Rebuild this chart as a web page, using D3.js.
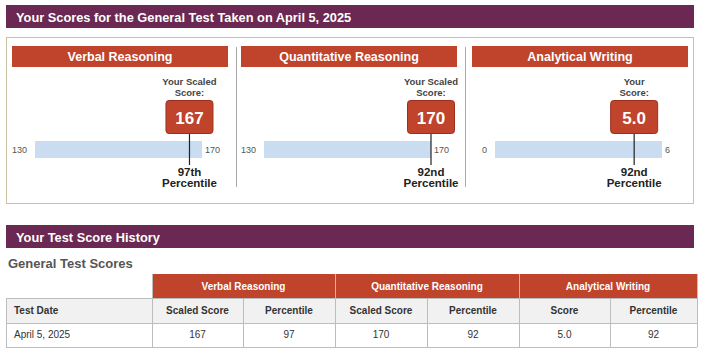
<!DOCTYPE html>
<html>
<head>
<meta charset="utf-8">
<script src="https://cdn.jsdelivr.net/npm/d3@7"></script>
<style>
  body { margin: 0; background: #fff; }
  svg { display: block; font-family: "Liberation Sans", Arial, sans-serif; }
</style>
</head>
<body>
<svg id="chart" width="707" height="356"></svg>
<script>
// score data
const sections = ["Verbal Reasoning", "Quantitative Reasoning", "Analytical Writing"];
const scores = [167, 170, 5.0];
const scoreFormats = ["d", "d", ".1f"];
const percentiles = [97, 92, 92];
const minScores = [130, 130, 0];
const maxScores = [170, 170, 6];
const scoreCaptions = [["Your Scaled", "Score:"], ["Your Scaled", "Score:"], ["Your", "Score:"]];

const testDates = ["April 5, 2025"];
const scoreColumns = ["Scaled Score", "Percentile", "Scaled Score", "Percentile", "Score", "Percentile"];

const purple = "#6a2853";
const red = "#c0432b";

const svg = d3.select("#chart");

function ordinal(n) {
  const s = ["th", "st", "nd", "rd"], v = n % 100;
  return n + (s[(v - 20) % 10] || s[v] || s[0]);
}

function banner(y, h, label) {
  svg.append("rect").attr("x", 6).attr("y", y).attr("width", 688).attr("height", h).attr("fill", purple);
  svg.append("text").attr("x", 16).attr("y", y + h / 2 + 5)
    .attr("fill", "#fff").attr("font-weight", "bold").attr("font-size", 12.8)
    .text(label);
}

// ---- top section ----
banner(5, 23, "Your Scores for the General Test Taken on April 5, 2025");

svg.append("rect").attr("x", 6.5).attr("y", 37.5).attr("width", 687).attr("height", 166)
  .attr("fill", "#fff").attr("stroke", "#c9c2a3");

const panelX = [12, 241, 472];
const panelW = 216;

[236.5, 465.5].forEach(x => {
  svg.append("line").attr("x1", x).attr("x2", x).attr("y1", 47).attr("y2", 187)
    .attr("stroke", "#aaa");
});

sections.forEach((name, i) => {
  const g = svg.append("g").attr("transform", `translate(${panelX[i]},0)`);

  g.append("rect").attr("x", 0).attr("y", 46).attr("width", panelW).attr("height", 21).attr("fill", red);
  g.append("text").attr("x", panelW / 2).attr("y", 61).attr("text-anchor", "middle")
    .attr("fill", "#fff").attr("font-weight", "bold").attr("font-size", 12.5).text(name);

  const x = d3.scaleLinear().domain([minScores[i], maxScores[i]]).range([23, 190]);

  // range bar
  g.append("rect").attr("x", x.range()[0]).attr("y", 141)
    .attr("width", x.range()[1] - x.range()[0]).attr("height", 17).attr("fill", "#c9dcf0");
  g.append("text").attr("x", x.range()[0] - 8).attr("y", 153).attr("text-anchor", "end")
    .attr("font-size", 9).attr("fill", "#555").text(minScores[i]);
  g.append("text").attr("x", x.range()[1] + 3).attr("y", 153)
    .attr("font-size", 9).attr("fill", "#555").text(maxScores[i]);

  const mx = x(scores[i]);

  // pointer line
  g.append("line").attr("x1", mx).attr("x2", mx).attr("y1", 133).attr("y2", 165)
    .attr("stroke", "#222").attr("stroke-width", 1.2);

  // caption
  g.append("text").attr("text-anchor", "middle").attr("font-size", 9.5).attr("font-weight", "bold")
    .attr("fill", "#444")
    .selectAll("tspan").data(scoreCaptions[i]).join("tspan")
    .attr("x", mx).attr("y", (d, j) => 85 + j * 11).text(d => d);

  // score box
  g.append("rect").attr("x", mx - 23.5).attr("y", 100.5).attr("width", 47).attr("height", 33)
    .attr("rx", 3).attr("fill", red).attr("stroke", "#9c2f1c");
  g.append("text").attr("x", mx).attr("y", 124).attr("text-anchor", "middle")
    .attr("fill", "#fff").attr("font-weight", "bold").attr("font-size", 17)
    .text(d3.format(scoreFormats[i])(scores[i]));

  // percentile
  g.append("text").attr("text-anchor", "middle").attr("font-size", 11.5).attr("font-weight", "bold")
    .attr("fill", "#222")
    .selectAll("tspan").data([ordinal(percentiles[i]), "Percentile"]).join("tspan")
    .attr("x", mx).attr("y", (d, j) => 176 + j * 11).text(d => d);
});

// ---- history section ----
banner(225, 23, "Your Test Score History");

svg.append("text").attr("x", 8).attr("y", 268).attr("font-size", 13).attr("font-weight", "bold")
  .attr("fill", "#555").text("General Test Scores");

const colEdges = [6, 152, 243, 335, 427, 519, 610, 697];
const rowY = [274, 298, 323, 347];

// group header row
sections.forEach((name, i) => {
  const x0 = colEdges[1 + i * 2], x1 = colEdges[3 + i * 2];
  svg.append("rect").attr("x", x0).attr("y", rowY[0]).attr("width", x1 - x0).attr("height", rowY[1] - rowY[0])
    .attr("fill", red);
  svg.append("text").attr("x", (x0 + x1) / 2).attr("y", rowY[0] + 16).attr("text-anchor", "middle")
    .attr("fill", "#fff").attr("font-weight", "bold").attr("font-size", 10).text(name);
});
[335.5, 519.5].forEach(x => {
  svg.append("line").attr("x1", x).attr("x2", x).attr("y1", rowY[0]).attr("y2", rowY[1]).attr("stroke", "#f4d6cf");
});

// column header row
svg.append("rect").attr("x", colEdges[0]).attr("y", rowY[1]).attr("width", colEdges[7] - colEdges[0])
  .attr("height", rowY[2] - rowY[1]).attr("fill", "#f1f1f1");
const headCells = ["Test Date"].concat(scoreColumns);
const bodyCells = testDates.map(d => [d].concat(
  sections.flatMap((s, i) => [d3.format(scoreFormats[i])(scores[i]), percentiles[i]])));

headCells.forEach((t, c) => {
  svg.append("text")
    .attr("x", c === 0 ? colEdges[0] + 8 : (colEdges[c] + colEdges[c + 1]) / 2)
    .attr("y", rowY[1] + 16).attr("text-anchor", c === 0 ? "start" : "middle")
    .attr("font-weight", "bold").attr("font-size", 10).attr("fill", "#333").text(t);
});
bodyCells.forEach(row => {
  row.forEach((t, c) => {
    svg.append("text")
      .attr("x", c === 0 ? colEdges[0] + 8 : (colEdges[c] + colEdges[c + 1]) / 2)
      .attr("y", rowY[2] + 15).attr("text-anchor", c === 0 ? "start" : "middle")
      .attr("font-size", 10).attr("fill", "#333").text(t);
  });
});

// grid lines
const grid = svg.append("g").attr("stroke", "#bdbdbd").attr("fill", "none");
[rowY[1], rowY[2], rowY[3]].forEach(y => {
  grid.append("line").attr("x1", colEdges[0]).attr("x2", colEdges[7]).attr("y1", y + 0.5).attr("y2", y + 0.5);
});
colEdges.forEach((x, c) => {
  // only the outer edges of each group rise into the group header row
  const tall = c === 1 || c === 3 || c === 5 || c === 7;
  grid.append("line").attr("x1", x + 0.5).attr("x2", x + 0.5)
    .attr("y1", tall ? rowY[0] : rowY[1]).attr("y2", rowY[3]);
});
</script>
</body>
</html>
